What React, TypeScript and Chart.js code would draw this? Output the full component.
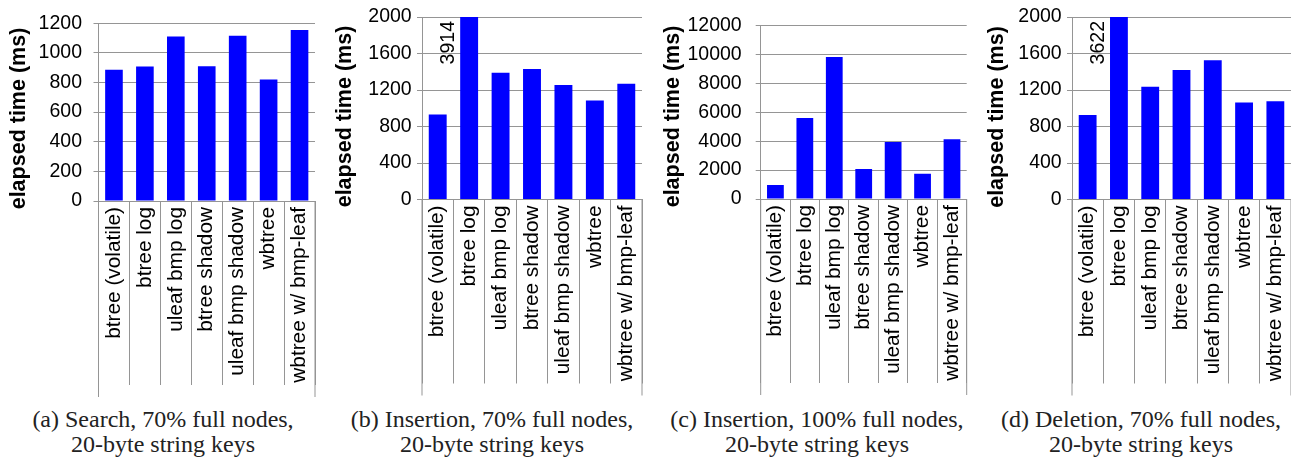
import React, { useEffect, useRef } from "react";
import { Chart, registerables } from "chart.js";

Chart.register(...registerables);

// ---------- data ----------
const categories = [
  "btree (volatile)",
  "btree log",
  "uleaf bmp log",
  "btree shadow",
  "uleaf bmp shadow",
  "wbtree",
  "wbtree w/ bmp-leaf",
];
const searchMs = [885, 907, 1110, 909, 1115, 820, 1154];
const insert70Ms = [931, 3914, 1389, 1429, 1255, 1084, 1269];
const insert100Ms = [962, 5610, 9840, 2075, 3948, 1746, 4144];
const delete70Ms = [927, 3622, 1236, 1418, 1527, 1062, 1076];

const yTitle = "elapsed time (ms)";
const captionsA = ["(a) Search, 70% full nodes,", "20-byte string keys"];
const captionsB = ["(b) Insertion, 70% full nodes,", "20-byte string keys"];
const captionsC = ["(c) Insertion, 100% full nodes,", "20-byte string keys"];
const captionsD = ["(d) Deletion, 70% full nodes,", "20-byte string keys"];

const yMaxA = 1200, yStepA = 200;
const yMaxB = 2000, yStepB = 400;
const yMaxC = 12000, yStepC = 2000;
const yMaxD = 2000, yStepD = 400;

// ---------- layout / style ----------
const GRID = "#959595";
const SANS = '"Liberation Sans", Arial, sans-serif';
const CANVAS_H = 400;

type PanelCfg = {
  values: number[];
  max: number;
  step: number;
  caption: string[];
  left: number;
  width: number;
  axisX: number;
  plotRight: number;
  top: number;
  bottom: number;
  tickPad: number;
  titleX: number;
  titleY: number;
  captionCenter: number;
};

const panels: PanelCfg[] = [
  { values: searchMs, max: yMaxA, step: yStepA, caption: captionsA, left: 0, width: 330, axisX: 98.5, plotRight: 315, top: 18, bottom: 201, tickPad: 11.5, titleX: 19, titleY: 118.5, captionCenter: 163 },
  { values: insert70Ms, max: yMaxB, step: yStepB, caption: captionsB, left: 330, width: 330, axisX: 422, plotRight: 642, top: 16, bottom: 199.5, tickPad: 5.3, titleX: 345, titleY: 116.5, captionCenter: 492 },
  { values: insert100Ms, max: yMaxC, step: yStepC, caption: captionsC, left: 660, width: 320, axisX: 760.7, plotRight: 966.7, top: 15.7, bottom: 199, tickPad: 14, titleX: 673.5, titleY: 116.5, captionCenter: 817 },
  { values: delete70Ms, max: yMaxD, step: yStepD, caption: captionsD, left: 980, width: 311, axisX: 1072, plotRight: 1291, top: 16, bottom: 199.5, tickPad: 5.3, titleX: 997.5, titleY: 117, captionCenter: 1141 },
];

function Panel({ cfg }: { cfg: PanelCfg }) {
  const ref = useRef<HTMLCanvasElement>(null);

  useEffect(() => {
    const canvas = ref.current;
    if (!canvas) return;
    const axisX = cfg.axisX - cfg.left;
    const extras = {
      id: "extras",
      afterDatasetsDraw(chart: any) {
        const { ctx, chartArea } = chart;
        const meta = chart.getDatasetMeta(0);
        ctx.save();
        meta.data.forEach((bar: any, i: number) => {
          const v = cfg.values[i];
          if (v > cfg.max) {
            const p = bar.getProps(["x", "width"], true);
            ctx.save();
            ctx.translate(p.x - p.width / 2 - 11.5, chartArea.top + 4);
            ctx.rotate(-Math.PI / 2);
            ctx.textAlign = "right";
            ctx.textBaseline = "middle";
            ctx.font = `19.5px ${SANS}`;
            ctx.fillStyle = "#000";
            ctx.fillText(String(v), 0, 0);
            ctx.restore();
          }
        });
        ctx.strokeStyle = GRID;
        ctx.lineWidth = 1;
        [chartArea.left, chartArea.right].forEach((x: number) => {
          ctx.beginPath();
          ctx.moveTo(x, chartArea.bottom);
          ctx.lineTo(x, chartArea.bottom + 196);
          ctx.stroke();
        });
        ctx.translate(cfg.titleX - cfg.left, cfg.titleY);
        ctx.rotate(-Math.PI / 2);
        ctx.textAlign = "center";
        ctx.textBaseline = "middle";
        ctx.font = `bold 21.5px ${SANS}`;
        ctx.fillStyle = "#000";
        ctx.fillText(yTitle, 0, 0);
        ctx.restore();
      },
    };

    const chart = new Chart(canvas, {
      type: "bar",
      data: {
        labels: categories,
        datasets: [
          {
            data: cfg.values,
            backgroundColor: "#0000ff",
            borderWidth: 0,
            barPercentage: 0.57,
            categoryPercentage: 1,
          },
        ],
      },
      options: {
        responsive: false,
        animation: false,
        layout: {
          padding: { top: cfg.top, right: cfg.width - (cfg.plotRight - cfg.left), bottom: 0, left: 0 },
        },
        plugins: { legend: { display: false }, tooltip: { enabled: false } },
        scales: {
          x: {
            offset: true,
            grid: {
              offset: true,
              display: true,
              drawOnChartArea: false,
              drawTicks: true,
              tickLength: 184,
              color: GRID,
              lineWidth: 1,
            },
            border: { display: true, color: GRID, width: 1 },
            ticks: {
              autoSkip: false,
              maxRotation: 90,
              minRotation: 90,
              padding: -178,
              color: "#000",
              font: { family: SANS, size: 20.8 },
            },
            afterFit: (s: any) => {
              s.height = CANVAS_H - cfg.bottom;
            },
          },
          y: {
            min: 0,
            max: cfg.max,
            ticks: {
              stepSize: cfg.step,
              padding: cfg.tickPad,
              color: "#000",
              font: { family: SANS, size: 19.5 },
              callback: (v: any) => String(v),
            },
            grid: { color: GRID, lineWidth: 1, tickLength: 5 },
            border: { display: true, color: GRID, width: 1 },
            afterFit: (s: any) => {
              s.width = axisX;
            },
          },
        },
      },
      plugins: [extras],
    } as any);
    return () => chart.destroy();
  }, [cfg]);

  return (
    <>
      <canvas
        ref={ref}
        width={cfg.width}
        height={CANVAS_H}
        style={{ position: "absolute", left: cfg.left, top: 0, width: cfg.width, height: CANVAS_H }}
      />
      <div
        style={{
          position: "absolute",
          left: cfg.captionCenter - 180,
          width: 360,
          top: 406.6,
          textAlign: "center",
          fontFamily: '"Liberation Serif", "Times New Roman", serif',
          fontSize: 24,
          lineHeight: "25px",
          color: "#222",
          whiteSpace: "nowrap",
        }}
      >
        {cfg.caption.map((line, i) => (
          <div key={i}>{line}</div>
        ))}
      </div>
    </>
  );
}

export default function App() {
  return (
    <div style={{ position: "absolute", left: 0, top: 0, width: 1291, height: 460, background: "#fff", overflow: "hidden" }}>
      {panels.map((cfg, i) => (
        <Panel key={i} cfg={cfg} />
      ))}
    </div>
  );
}
